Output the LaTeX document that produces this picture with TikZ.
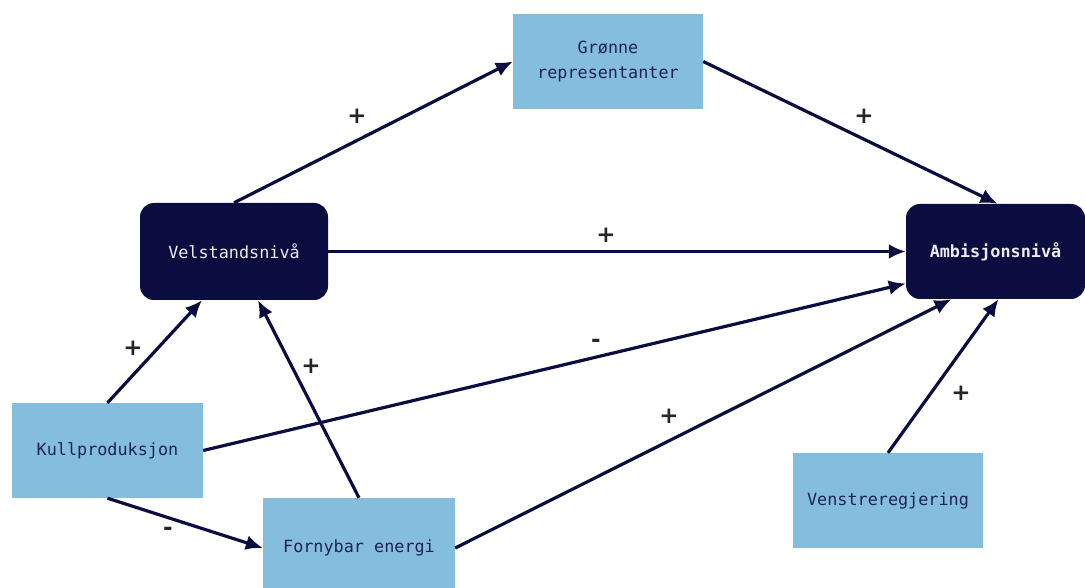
\documentclass[tikz,border=0pt]{standalone}
\usepackage{fontspec}
\setmonofont{DejaVu Sans Mono}
\newfontfamily\signfont{DejaVu Sans}
\usetikzlibrary{arrows.meta}
\definecolor{navy}{HTML}{0B0D40}
\definecolor{lightblue}{HTML}{85BDDC}
\definecolor{boxtext}{HTML}{1C2552}
\tikzset{
  x=1pt, y=-1pt,
  >={Latex[length=17pt,width=15pt]},
  factor/.style={fill=lightblue, text=boxtext, minimum width=190pt, minimum height=95pt,
    font=\ttfamily\fontsize{16.8}{25}\selectfont, align=center, inner sep=0pt},
  level/.style={fill=navy, text=white!92!navy, rounded corners=14pt, minimum width=188pt,
    minimum height=97pt, font=\ttfamily\fontsize{16.8}{25}\selectfont, inner sep=0pt},
  sign/.style={font=\signfont\bfseries\fontsize{23}{23}\selectfont, text=black!85, inner sep=0pt},
}

\begin{document}
\begin{tikzpicture}
		% settings for the links
		\tikzset{
			link/.style={->, draw=navy, line width=3.2pt},
		}
		\useasboundingbox (0,0) rectangle (1085,588);

		% boxes
		\node[factor] (gronne) at (608,61.5) {Grønne\\representanter};
		\node[level] (velstand) at (234,251.5) {Velstandsnivå};
		\node[level, minimum width=179pt, minimum height=95pt, font=\ttfamily\bfseries\fontsize{16.8}{25}\selectfont] (ambisjon) at (995.5,251.5) {Ambisjonsnivå};
		\node[factor, minimum width=191pt] (kull) at (107.5,450.5) {Kullproduksjon};
		\node[factor, minimum width=192pt, minimum height=100pt] (fornybar) at (359,548) {Fornybar energi};
		\node[factor] (venstre) at (888,500.5) {Venstreregjering};

		% links
		\draw[link] (velstand.north) -- (gronne.west);
		\draw[link] (gronne.east) -- ([xshift=2pt]ambisjon.north);
		\draw[link] (velstand.east) -- (ambisjon.west);
		\draw[link] (kull.north) -- ([xshift=-32pt]velstand.south);
		\draw[link] (fornybar.north) -- ([xshift=24pt]velstand.south);
		\draw[link] (kull.east) -- ([yshift=-32pt]ambisjon.west);
		\draw[link] (kull.south) -- (fornybar.west);
		\draw[link] (fornybar.east) -- ([xshift=-44pt]ambisjon.south);
		\draw[link] (venstre.north) -- ([xshift=3pt]ambisjon.south);

		% signs
		\node[sign] (s1) at (357,116) {+};
		\node[sign] (s2) at (864,116) {+};
		\node[sign] (s3) at (606,235) {+};
		\node[sign] (s4) at (133,348) {+};
		\node[sign] (s5) at (311,366) {+};
		\node[sign] (s6) at (596,343) {-};
		\node[sign] (s7) at (168,531) {-};
		\node[sign] (s8) at (669,416) {+};
		\node[sign] (s9) at (961,393) {+};

	\end{tikzpicture}
\end{document}
